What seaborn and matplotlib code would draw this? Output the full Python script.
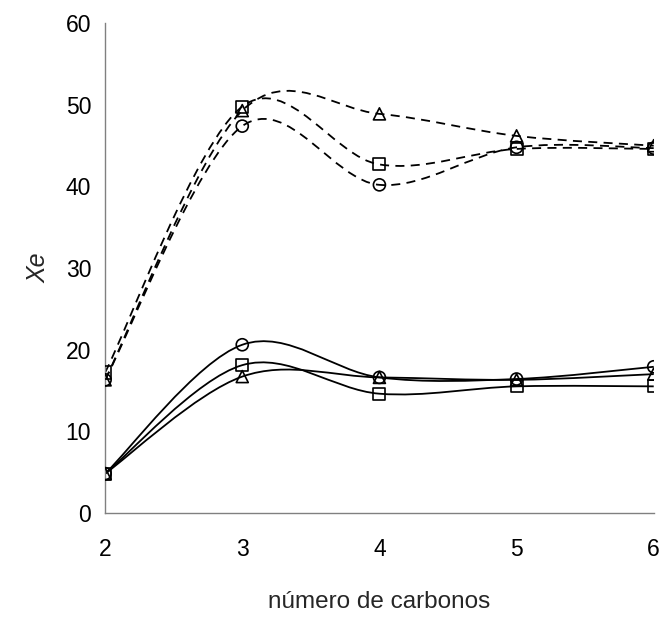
import numpy as np
import pandas as pd
import matplotlib
matplotlib.use('Agg')
import matplotlib.pyplot as plt
import seaborn as sns
from matplotlib.path import Path
from matplotlib.patches import PathPatch

carbonos = [2, 3, 4, 5, 6]

# dashed series (upper group)
circ_dash = [16.3, 47.4, 40.2, 44.8, 44.7]
sq_dash = [17.2, 49.8, 42.7, 44.6, 44.6]
tri_dash = [16.3, 49.3, 48.9, 46.2, 45.0]

# solid series (lower group)
circ_solid = [4.8, 20.6, 16.6, 16.4, 17.9]
sq_solid = [4.8, 18.1, 14.6, 15.5, 15.5]
tri_solid = [4.8, 16.7, 16.6, 16.3, 17.0]

series = [
    ('o', '--', circ_dash), ('s', '--', sq_dash), ('^', '--', tri_dash),
    ('o', '-', circ_solid), ('s', '-', sq_solid), ('^', '-', tri_solid),
]

sns.set_style('white')
plt.rcParams['font.family'] = ['Liberation Sans', 'DejaVu Sans']

fig = plt.figure(figsize=(6.61, 6.3), dpi=100)
ax = fig.add_axes([0.159, 0.186, 0.83, 0.777])


def smooth_path(xs, ys):
    # Excel-like smoothed line: Catmull-Rom converted to cubic Bezier
    p = np.column_stack([xs, ys]).astype(float)
    verts = [p[0]]
    codes = [Path.MOVETO]
    n = len(p)
    for i in range(n - 1):
        p0 = p[max(i - 1, 0)]
        p1 = p[i]
        p2 = p[i + 1]
        p3 = p[min(i + 2, n - 1)]
        c1 = p1 + (p2 - p0) / 6
        c2 = p2 - (p3 - p1) / 6
        verts += [c1, c2, p2]
        codes += [Path.CURVE4] * 3
    return Path(verts, codes)


for marker, ls, vals in series:
    patch = PathPatch(smooth_path(carbonos, vals), facecolor='none', edgecolor='black',
                      lw=1.3, linestyle=(0, (5, 3.5)) if ls == '--' else '-')
    ax.add_patch(patch)
    df = pd.DataFrame({'x': carbonos, 'y': vals})
    sns.scatterplot(data=df, x='x', y='y', marker=marker, s=75, facecolor='none',
                    edgecolor='black', linewidth=1.2, ax=ax, zorder=3)

ax.set_xlim(2, 6)
ax.set_ylim(0, 60)
ax.set_xticks([2, 3, 4, 5, 6])
ax.set_yticks(range(0, 61, 10))
for s in ['top', 'right']:
    ax.spines[s].set_visible(False)
for s in ['left', 'bottom']:
    ax.spines[s].set_color('#808080')
    ax.spines[s].set_linewidth(1.0)
ax.tick_params(axis='both', direction='out', length=6, width=1, color='#808080',
               labelsize=16.5, labelcolor='black', pad=4)
ax.tick_params(axis='x', pad=12)
ax.set_xlabel('número de carbonos', fontsize=17.5, labelpad=22)
ax.set_ylabel('Xe', fontsize=18, style='italic', labelpad=11)
for sp in ax.spines.values():
    sp.set_clip_on(False)

fig.savefig('out.png', dpi=100)
